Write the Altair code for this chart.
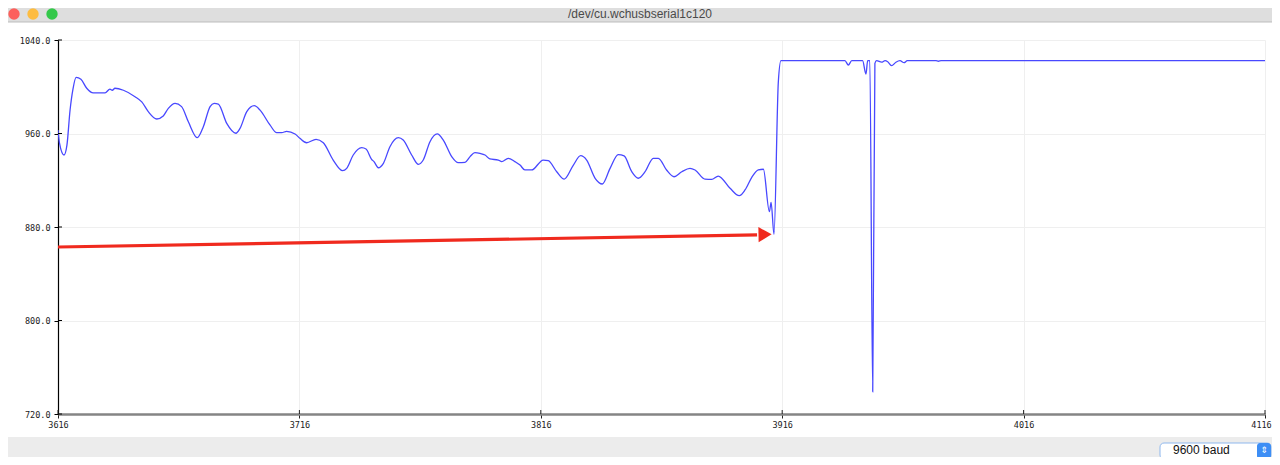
import altair as alt
import pandas as pd

# ---- data ----
sample = [3616.0, 3616.6, 3618.5, 3619.7, 3621.0, 3622.2, 3623.5, 3625.5, 3627.9, 3630.6,
          3635.5, 3637.5, 3638.5, 3639.6, 3643.1, 3647.9, 3650.7, 3653.4, 3656.9, 3659.6,
          3661.7, 3664.5, 3667.2, 3670.0, 3673.7, 3676.2, 3679.0, 3680.7, 3682.4, 3685.9,
          3689.7, 3691.4, 3694.2, 3697.3, 3699.7, 3703.8, 3706.6, 3708.7, 3710.7, 3714.2,
          3716.2, 3719.0, 3722.9, 3725.9, 3730.0, 3733.9, 3735.6, 3738.3, 3741.8, 3743.6,
          3745.9, 3746.9, 3748.7, 3750.8, 3753.5, 3757.0, 3759.0, 3762.5, 3765.3, 3767.3,
          3770.1, 3773.1, 3775.6, 3779.1, 3781.8, 3784.6, 3786.7, 3788.7, 3790.8, 3792.9,
          3794.9, 3798.4, 3799.8, 3802.5, 3805.3, 3807.4, 3809.4, 3812.2, 3817.0, 3819.1,
          3822.6, 3825.7, 3829.5, 3832.5, 3835.0, 3838.5, 3841.5, 3844.7, 3848.1, 3850.5,
          3853.7, 3856.4, 3859.2, 3862.6, 3864.7, 3868.1, 3871.2, 3874.4, 3877.8, 3879.9,
          3884.0, 3886.8, 3889.5, 3894.4, 3898.2, 3900.6, 3903.4, 3906.1, 3908.2, 3910.7,
          3911.4, 3912.6, 3914.4, 3915.5, 3942.0, 3943.4, 3944.8, 3949.3, 3950.7, 3951.4,
          3952.3, 3953.5, 3954.4, 3955.1, 3957.2, 3958.6, 3959.7, 3961.3, 3963.1, 3964.8,
          3966.5, 3967.8, 3979.7, 3980.7, 3981.8, 4116.0]
value = [963.0, 952.0, 941.6, 950.0, 980.1, 998.0, 1008.0, 1006.4, 998.7, 994.7,
         994.7, 998.0, 997.0, 998.7, 997.0, 991.5, 987.0, 978.7, 972.4, 975.0,
         981.5, 985.8, 983.0, 970.0, 956.4, 965.8, 983.0, 985.8, 985.2, 968.7,
         960.2, 964.4, 978.7, 983.8, 980.0, 967.3, 960.7, 960.7, 961.9, 959.6,
         955.9, 952.1, 955.0, 952.1, 937.3, 928.2, 930.2, 941.6, 947.9, 946.7,
         937.9, 935.9, 930.7, 934.5, 948.7, 956.4, 954.4, 941.6, 933.6, 937.3,
         953.0, 959.6, 954.4, 940.2, 935.0, 935.3, 940.2, 943.6, 943.0, 941.6,
         938.2, 937.3, 935.9, 938.8, 935.9, 933.0, 928.8, 928.8, 937.3, 936.7,
         927.3, 921.0, 933.0, 941.0, 937.3, 921.7, 916.8, 930.2, 941.9, 940.8,
         927.3, 921.7, 927.3, 938.8, 938.8, 928.8, 923.0, 927.3, 930.2, 928.8,
         921.0, 920.8, 923.6, 913.1, 906.8, 911.7, 922.5, 928.8, 929.4, 893.1,
         901.1, 873.8, 1004.3, 1022.3, 1022.3, 1018.6, 1022.3, 1022.3, 1010.9, 1022.3,
         1022.3, 739.0, 1020.0, 1022.3, 1021.0, 1022.3, 1021.4, 1018.0, 1021.0, 1022.3,
         1020.6, 1022.3, 1022.3, 1021.8, 1022.3, 1022.3]

arrow_x = [3616.0, 3905.6]
arrow_y = [862.9, 873.2]
arrow_tip_x = [3908.9]
arrow_tip_y = [873.6]

x_ticks = [3616, 3716, 3816, 3916, 4016, 4116]
y_ticks = [720, 800, 880, 960, 1040]

window_title = "/dev/cu.wchusbserial1c120"
baud_label = "9600 baud"

df = pd.DataFrame({"sample": sample, "value": value})
arrow_df = pd.DataFrame({"sample": arrow_x, "value": arrow_y})
tip_df = pd.DataFrame({"sample": arrow_tip_x, "value": arrow_tip_y})
xt_df = pd.DataFrame({"t": x_ticks})
yt_df = pd.DataFrame({"t": y_ticks})
one = pd.DataFrame({"k": [0]})

MONO = "DejaVu Sans Mono"

xscale = alt.Scale(domain=[3616, 4116], nice=False, zero=False)
yscale = alt.Scale(domain=[720, 1040], nice=False, zero=False)

line = alt.Chart(df).mark_line(color="#4848ff", strokeWidth=1.3, clip=True,
                               interpolate="monotone").encode(
    x=alt.X("sample:Q", scale=xscale,
            axis=alt.Axis(values=x_ticks, title=None, format="d", labelFlush=False,
                          labelOverlap=False, labelBound=False,
                          labelOffset=alt.ExprRef(expr="datum.value == 4116 ? -4 : 0"),
                          domainColor="#858585", domainWidth=2.5,
                          tickColor="#222", tickSize=4, tickWidth=1,
                          labelFont=MONO, labelFontSize=8.5, labelColor="#222",
                          labelPadding=2, grid=True, gridColor="#efefef")),
    y=alt.Y("value:Q", scale=yscale,
            axis=alt.Axis(values=y_ticks, title=None, format=".1f",
                          labelOverlap=False, labelBound=False, labelFlush=False,
                          domainColor="#000", domainWidth=1.2,
                          tickColor="#000", tickSize=4, tickWidth=1,
                          labelFont=MONO, labelFontSize=8.5, labelColor="#222",
                          labelPadding=4, grid=True, gridColor="#efefef")),
)

# inner halves of the crossing ticks
ytick_in = alt.Chart(yt_df).mark_rule(color="#000", strokeWidth=1).encode(
    y=alt.Y("t:Q", scale=yscale), x=alt.value(0), x2=alt.value(4))
xtick_in = alt.Chart(xt_df).mark_rule(color="#222", strokeWidth=1).encode(
    x=alt.X("t:Q", scale=xscale), y=alt.value(370), y2=alt.value(374))

arrow_line = alt.Chart(arrow_df).mark_line(color="#f02a1e", strokeWidth=3.2).encode(
    x=alt.X("sample:Q", scale=xscale), y=alt.Y("value:Q", scale=yscale))
arrow_head = alt.Chart(tip_df).mark_point(
    shape="triangle-right", filled=True, color="#f02a1e", opacity=1, size=230, angle=359
).encode(x=alt.X("sample:Q", scale=xscale), y=alt.Y("value:Q", scale=yscale))

# window chrome
title_bar = alt.Chart(one).mark_rect(color="#dedede").encode(
    x=alt.value(-50), x2=alt.value(1214), y=alt.value(-32), y2=alt.value(-18))
title_sep = alt.Chart(one).mark_rule(color="#bdbdbd", strokeWidth=1).encode(
    x=alt.value(-50), x2=alt.value(1214), y=alt.value(-18))
title_text = alt.Chart(one).mark_text(
    font="Liberation Sans", fontSize=12, color="#4a4a4a", align="center", baseline="middle"
).encode(x=alt.value(582), y=alt.value(-26), text=alt.value(window_title))
lights = alt.Chart(pd.DataFrame({"px": [-44, -25, -6],
                                 "c": ["#fc605c", "#fdbc40", "#34c84a"]})).mark_point(
    shape="circle", filled=True, opacity=1, size=130
).encode(x=alt.X("px:Q", scale=None), y=alt.value(-26),
         color=alt.Color("c:N", scale=None))

bottom_bar = alt.Chart(one).mark_rect(color="#ececec").encode(
    x=alt.value(-50), x2=alt.value(1214), y=alt.value(397), y2=alt.value(417))
dropdown = alt.Chart(one).mark_rect(
    color="#ffffff", stroke="#8fb8ee", strokeWidth=1, cornerRadius=4
).encode(x=alt.value(1102), x2=alt.value(1213), y=alt.value(403), y2=alt.value(419))
dropdown_btn = alt.Chart(one).mark_rect(color="#3d8ef5", cornerRadius=3).encode(
    x=alt.value(1199), x2=alt.value(1213), y=alt.value(403), y2=alt.value(419))
dropdown_text = alt.Chart(one).mark_text(
    font="Liberation Sans", fontSize=12, color="#111", align="left", baseline="middle"
).encode(x=alt.value(1115), y=alt.value(410), text=alt.value(baud_label))
dropdown_arrow = alt.Chart(one).mark_text(
    font="DejaVu Sans", fontSize=9, color="#fff", align="center", baseline="middle"
).encode(x=alt.value(1206), y=alt.value(410), text=alt.value("\u21d5"))

chart = alt.layer(
    title_bar, title_sep, title_text, lights,
    bottom_bar, dropdown, dropdown_btn, dropdown_text, dropdown_arrow,
    line, ytick_in, xtick_in, arrow_line, arrow_head,
).properties(
    width=1207, height=374,
    autosize=alt.AutoSizeParams(type="none"),
    padding={"left": 50, "top": 32, "right": 7, "bottom": 43},
    background="#ffffff",
).configure_view(stroke=None)

chart.save("out.html", embed_options={"renderer": "svg", "actions": False})
